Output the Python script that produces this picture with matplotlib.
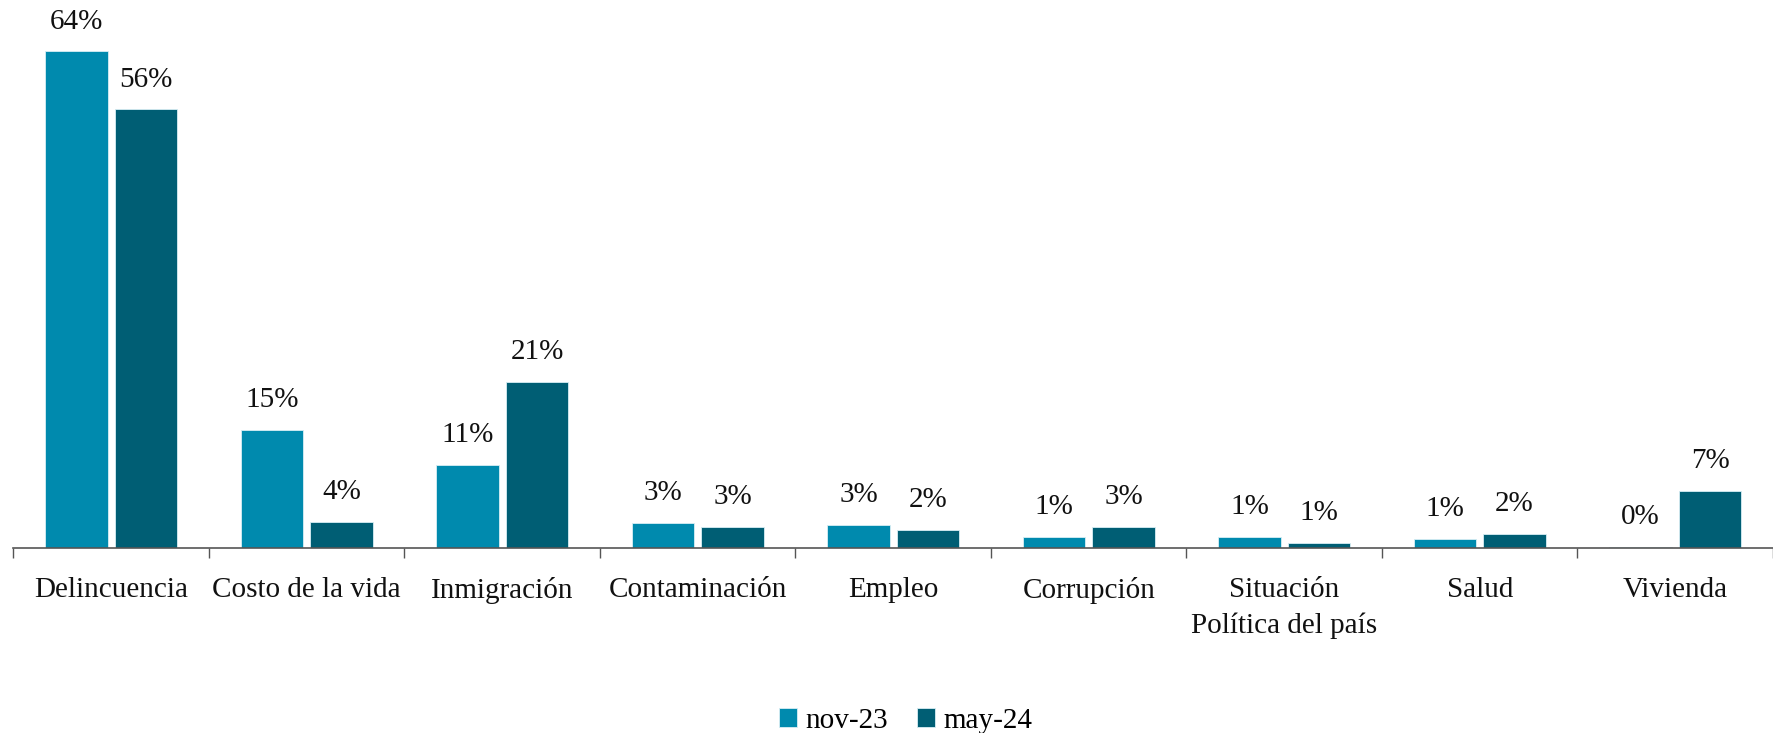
import numpy as np
import matplotlib.pyplot as plt

# datos (% de menciones)
categorias = ['Delincuencia', 'Costo de la vida', 'Inmigración', 'Contaminación',
              'Empleo', 'Corrupción', 'Situación\nPolítica del país', 'Salud', 'Vivienda']
nov23 = [64.0, 15.2, 10.7, 3.2, 3.0, 1.4, 1.4, 1.2, 0.15]
may24 = [56.5, 3.4, 21.4, 2.7, 2.3, 2.75, 0.65, 1.8, 7.4]
etiquetas_nov = ['64%', '15%', '11%', '3%', '3%', '1%', '1%', '1%', '0%']
etiquetas_may = ['56%', '4%', '21%', '3%', '2%', '3%', '1%', '2%', '7%']

col_nov = '#008AAE'
col_may = '#005E74'

plt.rcParams['font.family'] = ['Liberation Serif', 'DejaVu Serif']

fig = plt.figure(figsize=(17.73, 7.33), dpi=100)
ax = fig.add_axes([0.0076, 0.2524, 0.9924, 0.7476])

x = np.arange(len(categorias))
w = 0.32
b1 = ax.bar(x - 0.178, nov23, w, color=col_nov, edgecolor='#d8eef4', linewidth=0.6, label='nov-23')
b2 = ax.bar(x + 0.178, may24, w, color=col_may, edgecolor='#d8eef4', linewidth=0.6, label='may-24')

for barras, textos in [(b1, etiquetas_nov), (b2, etiquetas_may)]:
    for r, t in zip(barras, textos):
        ax.annotate(t, (r.get_x() + r.get_width() / 2, r.get_height()),
                    xytext=(0, 12), textcoords='offset points',
                    ha='center', va='bottom', fontsize=21, color='#111111')

ax.set_xlim(-0.5, 8.463)
ax.set_ylim(0, 70.6)

for s in ['top', 'right', 'left']:
    ax.spines[s].set_visible(False)
ax.spines['bottom'].set_color('#555555')
ax.spines['bottom'].set_linewidth(1.2)
ax.set_yticks([])

ax.set_xticks(x)
ax.set_xticklabels(categorias, fontsize=21, linespacing=1.45, color='#111111')
ax.tick_params(axis='x', which='major', length=0, pad=21)
ax.set_xticks(np.arange(-0.5, 8.6, 1.0), minor=True)
ax.tick_params(axis='x', which='minor', length=7, width=1, color='#555555', direction='out')

fig.legend(handles=[b1, b2], loc='center', bbox_to_anchor=(0.511, 0.017), ncol=2,
           frameon=False, fontsize=21, handlelength=0.6, handleheight=0.6,
           handletextpad=0.3, columnspacing=1.0)

fig.savefig('out.png', dpi=100)
